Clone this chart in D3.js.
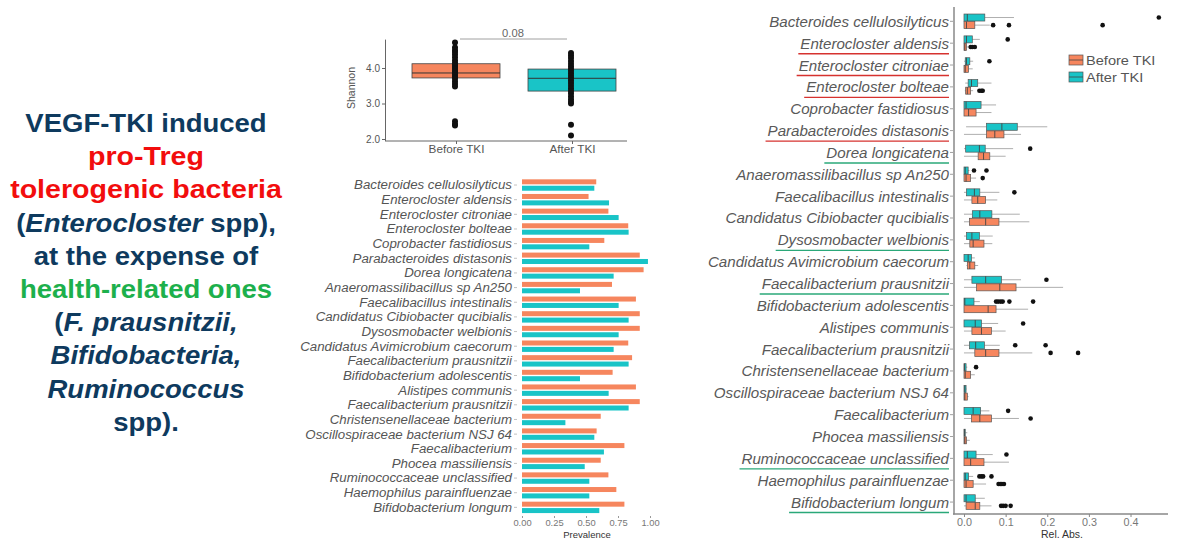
<!DOCTYPE html>
<html>
<head>
<meta charset="utf-8">
<script src="https://cdn.jsdelivr.net/npm/d3@7"></script>
<style>
  body { margin: 0; background: #fff; }
  svg { display: block; font-family: "Liberation Sans", Arial, sans-serif; }
</style>
</head>
<body>
<div id="container"></div>
<script>
/**
 * CONSTANTS AND DATA
 * */
const width = 1200, height = 546;
const SX = 1.12; // the slide is a bit stretched sideways, so text is too

const orange = "#f6865e", teal = "#19c4c7";

const taxa = [
  "Bacteroides cellulosilyticus", "Enterocloster aldensis", "Enterocloster citroniae",
  "Enterocloster bolteae", "Coprobacter fastidiosus", "Parabacteroides distasonis",
  "Dorea longicatena", "Anaeromassilibacillus sp An250", "Faecalibacillus intestinalis",
  "Candidatus Cibiobacter qucibialis", "Dysosmobacter welbionis", "Candidatus Avimicrobium caecorum",
  "Faecalibacterium prausnitzii", "Bifidobacterium adolescentis", "Alistipes communis",
  "Faecalibacterium prausnitzii", "Christensenellaceae bacterium", "Oscillospiraceae bacterium NSJ 64",
  "Faecalibacterium", "Phocea massiliensis", "Ruminococcaceae unclassified",
  "Haemophilus parainfluenzae", "Bifidobacterium longum"
];
// underline colour of each label in the right panel
const marks = ["", "red", "red", "red", "", "red", "green", "", "", "", "green", "",
  "green", "", "", "", "", "", "", "", "green", "", "green"];

// prevalence
const prevBefore = [0.58, 0.52, 0.675, 0.83, 0.643, 0.92, 0.95, 0.703, 0.89, 0.92, 0.92, 0.83,
  0.86, 0.708, 0.89, 0.92, 0.615, 0.583, 0.80, 0.615, 0.675, 0.737, 0.80];
const prevAfter = [0.565, 0.68, 0.755, 0.833, 0.526, 0.984, 0.716, 0.453, 0.755, 0.833, 0.755, 0.716,
  0.833, 0.453, 0.677, 0.833, 0.339, 0.565, 0.64, 0.49, 0.526, 0.526, 0.604];

// rel. abundance boxes: [low whisker, q1, median, q3, high whisker]
const relBefore = [
  [0, 0, 0.006, 0.026, 0.062], [0, 0, 0.002, 0.006, 0.013], [0, 0, 0.003, 0.011, 0.021],
  [0.002, 0.004, 0.008, 0.016, 0.022], [0, 0, 0.011, 0.029, 0.066], [0, 0.054, 0.074, 0.096, 0.137],
  [0, 0.034, 0.047, 0.062, 0.1], [0, 0, 0.005, 0.016, 0.029], [0, 0.019, 0.033, 0.052, 0.08],
  [0, 0.013, 0.052, 0.084, 0.157], [0, 0.014, 0.022, 0.048, 0.068], [0.006, 0.008, 0.014, 0.026, 0.034],
  [0, 0.03, 0.086, 0.125, 0.238], [0, 0, 0.058, 0.077, 0.154], [0, 0.019, 0.042, 0.066, 0.1],
  [0, 0.026, 0.052, 0.084, 0.164], [0, 0, 0.003, 0.016, 0.026], [0, 0, 0.002, 0.008, 0.011],
  [0, 0.018, 0.038, 0.066, 0.132], [0, 0, 0.002, 0.006, 0.014], [0, 0, 0.016, 0.048, 0.108],
  [0, 0, 0.005, 0.022, 0.053], [0, 0.005, 0.027, 0.038, 0.066]
];
const relAfter = [
  [0, 0, 0.008, 0.05, 0.12], [0, 0, 0.006, 0.02, 0.038], [0, 0.003, 0.006, 0.014, 0.022],
  [0.003, 0.01, 0.018, 0.033, 0.066], [0, 0, 0.005, 0.041, 0.077], [0.005, 0.054, 0.091, 0.128, 0.2],
  [0, 0.004, 0.037, 0.051, 0.118], [0, 0, 0.003, 0.01, 0.013], [0, 0.006, 0.025, 0.038, 0.085],
  [0, 0.02, 0.038, 0.067, 0.134], [0, 0.006, 0.019, 0.037, 0.069], [0, 0, 0.01, 0.018, 0.026],
  [0, 0.019, 0.052, 0.09, 0.137], [0, 0, 0.002, 0.024, 0.038], [0, 0, 0.027, 0.042, 0.082],
  [0, 0.013, 0.028, 0.049, 0.086], [0, 0, 0.001, 0.005, 0.008], [0, 0, 0.002, 0.005, 0.006],
  [0, 0, 0.022, 0.04, 0.061], [0, 0, 0.001, 0.003, 0.008], [0, 0, 0.008, 0.029, 0.069],
  [0, 0, 0.003, 0.011, 0.022], [0, 0, 0.005, 0.027, 0.05]
];
const outBefore = [[0.07, 0.108, 0.333], [0.016, 0.02, 0.026], [], [0.037, 0.042, 0.045], [], [], [],
  [0.045], [], [], [], [], [], [], [], [0.208, 0.274], [], [], [0.16], [], [],
  [0.083, 0.087, 0.091, 0.096], [0.089, 0.094, 0.1, 0.112]];
const outAfter = [[0.468], [0.105], [0.061], [], [], [], [0.159], [0.024, 0.054], [0.121], [], [], [],
  [0.198], [0.077, 0.082, 0.088, 0.093, 0.109, 0.166], [0.142], [0.123, 0.196], [0.029], [], [0.106],
  [], [0.102], [0.037, 0.042, 0.046, 0.066], []];

// shannon diversity
const groups = ["Before TKI", "After TKI"];
const shannonBox = [[3.72, 3.86, 4.12], [3.35, 3.71, 3.97]]; // q1, median, q3
const shannonBefore = [4.72, 4.58, 4.5, 4.45, 4.38, 4.3, 4.22, 4.15, 4.1, 4.05, 4.0, 3.95, 3.9, 3.85,
  3.8, 3.75, 3.7, 3.62, 3.55, 3.48, 2.5, 2.42, 2.38];
const shannonAfter = [4.42, 4.35, 4.28, 4.2, 4.12, 4.05, 3.98, 3.92, 3.85, 3.78, 3.72, 3.65, 3.58,
  3.5, 3.42, 3.35, 3.28, 3.2, 3.12, 3.05, 3.0, 2.4, 2.1];
const shannonP = "0.08";

const legendKeys = ["Before TKI", "After TKI"];

const svg = d3.select("#container").append("svg")
  .attr("width", width)
  .attr("height", height);

// stretched text helper
function stext(g, x, y, str, size, anchor, fill, sx) {
  return g.append("text")
    .attr("transform", `translate(${x},${y}) scale(${sx || SX},1)`)
    .attr("text-anchor", anchor)
    .style("font-size", size + "px")
    .attr("fill", fill)
    .text(str);
}

/**
 * LEFT TEXT BLOCK
 * */
const navy = "#0e3a5e", red = "#f20d0d", green = "#1db04c";
const lines = [
  [["VEGF-TKI induced", navy, 0]],
  [["pro-Treg", red, 0]],
  [["tolerogenic bacteria", red, 0]],
  [["(", navy, 0], ["Enterocloster", navy, 1], [" spp),", navy, 0]],
  [["at the expense of", navy, 0]],
  [["health-related ones", green, 0]],
  [["(", navy, 0], ["F. prausnitzii,", navy, 1]],
  [["Bifidobacteria,", navy, 1]],
  [["Ruminococcus", navy, 1]],
  [["spp).", navy, 0]]
];
const blurb = svg.append("g");
lines.forEach((parts, i) => {
  const t = blurb.append("text")
    .attr("transform", `translate(146,${132 + i * 33.2}) scale(1.1,1)`)
    .attr("text-anchor", "middle")
    .style("font-size", (parts[0][1] === red ? 26 : 25) + "px")
    .style("font-weight", "bold");
  parts.forEach(p => {
    t.append("tspan").attr("fill", p[1]).style("font-style", p[2] ? "italic" : "normal").text(p[0]);
  });
});

/**
 * SHANNON BOXPLOT
 * */
const sh = svg.append("g");
const shX = d3.scalePoint().domain(groups).range([456, 572]);
const shY = d3.scaleLinear().domain([2, 4]).range([139, 68]);
const boxW = 88;

sh.append("line").attr("x1", 385.5).attr("x2", 385.5).attr("y1", shY(4.8)).attr("y2", 141)
  .attr("stroke", "#666").attr("stroke-width", 1);
sh.append("line").attr("x1", 385).attr("x2", 627).attr("y1", 141).attr("y2", 141)
  .attr("stroke", "#666").attr("stroke-width", 1);

const shAxis = sh.append("g").attr("transform", "translate(385,0)")
  .call(d3.axisLeft(shY).tickValues([2, 3, 4]).tickFormat(d3.format(".1f")).tickSize(3));
shAxis.select(".domain").remove();
shAxis.selectAll("line").attr("stroke", "#666");
shAxis.selectAll("text").attr("fill", "#555").style("font-size", "10px").attr("x", -5);

const shXAxis = sh.append("g").attr("transform", "translate(0,141)")
  .call(d3.axisBottom(shX).tickSize(3));
shXAxis.select(".domain").remove();
shXAxis.selectAll("line").attr("stroke", "#666");
shXAxis.selectAll("text").attr("fill", "#555").style("font-size", "10.5px")
  .attr("transform", "scale(1.12,1)").attr("y", 5);

sh.append("text")
  .attr("transform", "translate(355,88) rotate(-90)")
  .attr("text-anchor", "middle").style("font-size", "10.5px").attr("fill", "#555").text("Shannon");

sh.selectAll("rect.sbox").data(shannonBox).join("rect")
  .attr("class", "sbox")
  .attr("x", (d, i) => shX(groups[i]) - boxW / 2)
  .attr("width", boxW)
  .attr("y", d => shY(d[2]))
  .attr("height", d => shY(d[0]) - shY(d[2]))
  .attr("fill", (d, i) => i ? teal : orange)
  .attr("stroke", "#444").attr("stroke-width", 0.8);
sh.selectAll("line.smed").data(shannonBox).join("line")
  .attr("class", "smed")
  .attr("x1", (d, i) => shX(groups[i]) - boxW / 2)
  .attr("x2", (d, i) => shX(groups[i]) + boxW / 2)
  .attr("y1", d => shY(d[1])).attr("y2", d => shY(d[1]))
  .attr("stroke", "#333").attr("stroke-width", 1);

[shannonBefore, shannonAfter].forEach((vals, i) => {
  sh.selectAll(null).data(vals).join("circle")
    .attr("cx", shX(groups[i]) - 1)
    .attr("cy", d => shY(d))
    .attr("r", 3)
    .attr("fill", "#111");
});

sh.append("line").attr("x1", 460).attr("x2", 567).attr("y1", 39).attr("y2", 39)
  .attr("stroke", "#888").attr("stroke-width", 0.8);
stext(sh, 513, 37, shannonP, 10, "middle", "#666");

/**
 * PREVALENCE BARS
 * */
const pv = svg.append("g");
const pX = d3.scaleLinear().domain([0, 1]).range([522, 650]);
const pY = d3.scaleBand().domain(d3.range(taxa.length)).range([177.7, 514.7]);
const barH = 5;

pv.selectAll("rect.pb").data(prevBefore).join("rect")
  .attr("class", "pb")
  .attr("x", pX(0)).attr("width", d => pX(d) - pX(0))
  .attr("y", (d, i) => pY(i) + pY.bandwidth() / 2 - barH - 0.7)
  .attr("height", barH).attr("fill", orange);
pv.selectAll("rect.pa").data(prevAfter).join("rect")
  .attr("class", "pa")
  .attr("x", pX(0)).attr("width", d => pX(d) - pX(0))
  .attr("y", (d, i) => pY(i) + pY.bandwidth() / 2 + 0.7)
  .attr("height", barH).attr("fill", teal);

taxa.forEach((t, i) => {
  const cy = pY(i) + pY.bandwidth() / 2;
  stext(pv, 512, cy + 4.4, t, 12.3, "end", "#555", 1.08).style("font-style", "italic");
  pv.append("line").attr("x1", 514).attr("x2", 517).attr("y1", cy).attr("y2", cy)
    .attr("stroke", "#999").attr("stroke-width", 0.6);
});

const pAxis = pv.append("g").attr("transform", "translate(0,516)")
  .call(d3.axisBottom(pX).tickValues([0, 0.25, 0.5, 0.75, 1]).tickFormat(d3.format(".2f")).tickSize(2));
pAxis.select(".domain").remove();
pAxis.selectAll("line").attr("stroke", "#999");
pAxis.selectAll("text").attr("fill", "#777").style("font-size", "8.5px")
  .attr("transform", "scale(1.1,1)").attr("y", 4);
stext(pv, 587, 538, "Prevalence", 8.5, "middle", "#333");

/**
 * RELATIVE ABUNDANCE BOXPLOTS
 * */
const ra = svg.append("g");
const rX = d3.scaleLinear().domain([-0.024, 0.49]).range([954, 1168]);
const rY = d3.scaleBand().domain(d3.range(taxa.length)).range([10.4, 513]);
const bh = 7;

ra.append("line").attr("x1", 954).attr("x2", 954).attr("y1", 7).attr("y2", 514.5)
  .attr("stroke", "#888").attr("stroke-width", 1.5);
ra.append("line").attr("x1", 953).attr("x2", 1168).attr("y1", 514).attr("y2", 514)
  .attr("stroke", "#888").attr("stroke-width", 1.5);

const rAxis = ra.append("g").attr("transform", "translate(0,514)")
  .call(d3.axisBottom(rX).tickValues([0, 0.1, 0.2, 0.3, 0.4]).tickFormat(d3.format(".1f")).tickSize(3));
rAxis.select(".domain").remove();
rAxis.selectAll("line").attr("stroke", "#888");
rAxis.selectAll("text").attr("fill", "#777").style("font-size", "10px")
  .attr("transform", "scale(1.08,1)").attr("y", 5);
stext(ra, 1062, 538, "Rel. Abs.", 10, "middle", "#333", 1.05);

function drawBox(g, d, cy, fill) {
  g.append("line").attr("x1", rX(d[0])).attr("x2", rX(d[1])).attr("y1", cy).attr("y2", cy)
    .attr("stroke", "#999").attr("stroke-width", 0.8);
  g.append("line").attr("x1", rX(d[3])).attr("x2", rX(d[4])).attr("y1", cy).attr("y2", cy)
    .attr("stroke", "#999").attr("stroke-width", 0.8);
  g.append("rect")
    .attr("x", rX(d[1])).attr("width", Math.max(1, rX(d[3]) - rX(d[1])))
    .attr("y", cy - bh / 2).attr("height", bh)
    .attr("fill", fill).attr("stroke", "#555").attr("stroke-width", 0.7);
  g.append("line").attr("x1", rX(d[2])).attr("x2", rX(d[2]))
    .attr("y1", cy - bh / 2).attr("y2", cy + bh / 2)
    .attr("stroke", "#444").attr("stroke-width", 0.9);
}

taxa.forEach((t, i) => {
  const cy = rY(i) + rY.bandwidth() / 2;
  drawBox(ra, relAfter[i], cy - 3.8, teal);
  drawBox(ra, relBefore[i], cy + 3.8, orange);
  ra.selectAll(null).data(outAfter[i]).join("circle")
    .attr("cx", d => rX(d)).attr("cy", cy - 3.8).attr("r", 2.3).attr("fill", "#111");
  ra.selectAll(null).data(outBefore[i]).join("circle")
    .attr("cx", d => rX(d)).attr("cy", cy + 3.8).attr("r", 2.3).attr("fill", "#111");

  const lbl = stext(ra, 949, cy + 5.5, t, 14, "end", "#595959", 1.08).style("font-style", "italic");
  ra.append("line").attr("x1", 950).attr("x2", 953).attr("y1", cy).attr("y2", cy)
    .attr("stroke", "#888").attr("stroke-width", 0.8);
  if (marks[i]) {
    const w = lbl.node().getComputedTextLength() * 1.08;
    ra.append("line")
      .attr("x1", 949 - w - 2).attr("x2", 949)
      .attr("y1", cy + 10.5).attr("y2", cy + 10.5)
      .attr("stroke", marks[i] === "red" ? "#d6322f" : "#2aa879")
      .attr("stroke-width", 1.4);
  }
});

// legend
const leg = svg.append("g").attr("transform", "translate(1069,54)");
legendKeys.forEach((k, i) => {
  const y = i * 17;
  leg.append("rect").attr("x", 0).attr("y", y + 1).attr("width", 14).attr("height", 10)
    .attr("fill", i ? teal : orange).attr("stroke", "#555").attr("stroke-width", 0.7);
  leg.append("line").attr("x1", 0).attr("x2", 14).attr("y1", y + 6).attr("y2", y + 6)
    .attr("stroke", "#444").attr("stroke-width", 0.8);
  stext(leg, 17, y + 11, k, 13.5, "start", "#555", 1.08);
});
</script>
</body>
</html>
